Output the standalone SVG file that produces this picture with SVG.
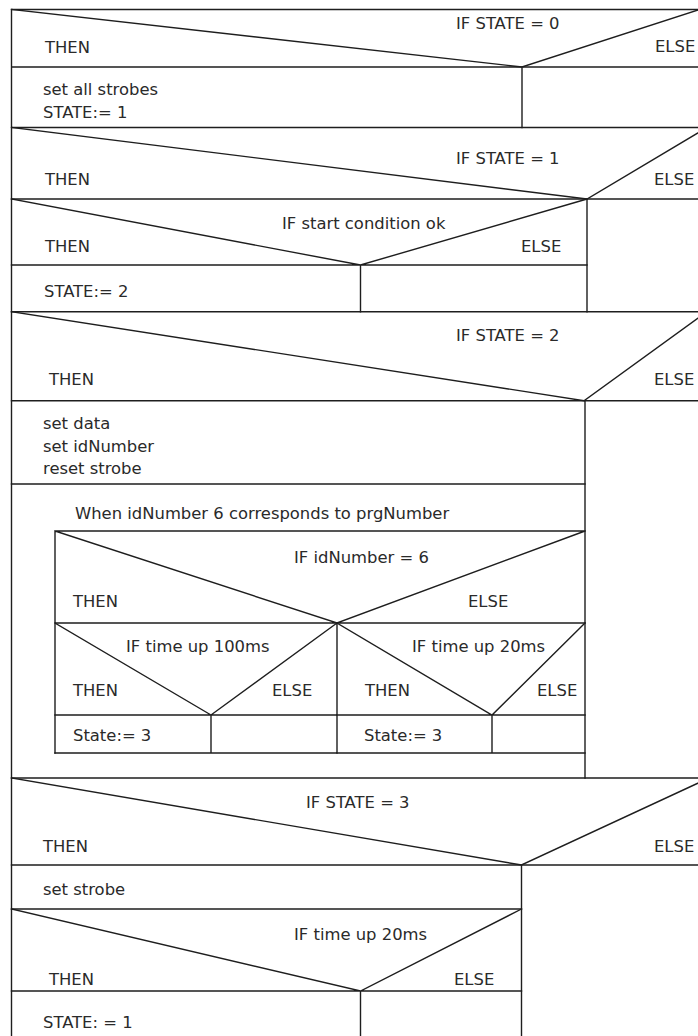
<svg xmlns="http://www.w3.org/2000/svg" width="698" height="1036" viewBox="0 0 698 1036">
<style>
.l{stroke:#1e1e1e;stroke-width:1.4;fill:none;stroke-linecap:square}
.t{font-family:"DejaVu Sans","Liberation Sans",Arial,sans-serif;font-size:16.4px;fill:#2a2a2a}
</style>
<rect x="0" y="0" width="698" height="1036" fill="#ffffff"/>
<g id="connectors"></g>
<g id="block-state0">
<path class="l" d="M11.5,9.5H698 M11.5,67H698 M11.5,127.5H698 M11.5,9.5V1036"/>
<path class="l" d="M11.5,9.5L522,67L699.5,9.5 M522,67V127.5"/>
<text class="t" x="456" y="29">IF STATE = 0</text>
<text class="t" x="45" y="53">THEN</text>
<text class="t" x="655" y="52">ELSE</text>
<text class="t" x="43" y="95">set all strobes</text>
<text class="t" x="43" y="118">STATE:= 1</text>
</g>
<g id="block-state1">
<path class="l" d="M11.5,199H698 M11.5,311.7H698"/>
<path class="l" d="M11.5,127.5L587,199L707,127.5 M587,199V311.7"/>
<text class="t" x="456" y="164">IF STATE = 1</text>
<text class="t" x="45" y="185">THEN</text>
<text class="t" x="654" y="185">ELSE</text>
</g>
<g id="block-startcond">
<path class="l" d="M11.5,265H587 M11.5,199L360.5,265L587,199 M360.5,265V311.7"/>
<text class="t" x="282" y="229">IF start condition ok</text>
<text class="t" x="45" y="252">THEN</text>
<text class="t" x="521" y="252">ELSE</text>
<text class="t" x="44" y="297">STATE:= 2</text>
</g>
<g id="block-state2">
<path class="l" d="M11.5,400.7H698 M11.5,778H698 M11.5,484H585"/>
<path class="l" d="M11.5,311.7L584,400.7L707,311.7 M585,400.7V778"/>
<text class="t" x="456" y="341">IF STATE = 2</text>
<text class="t" x="49" y="385">THEN</text>
<text class="t" x="654" y="385">ELSE</text>
<text class="t" x="43" y="429">set data</text>
<text class="t" x="43" y="452">set idNumber</text>
<text class="t" x="43" y="474">reset strobe</text>
<text class="t" x="75" y="519">When idNumber 6 corresponds to prgNumber</text>
</g>
<g id="block-idnumber">
<path class="l" d="M55,531H585 M55,531V753 M55,623H585 M55,531L337,623L585,531"/>
<text class="t" x="294" y="563">IF idNumber = 6</text>
<text class="t" x="73" y="607">THEN</text>
<text class="t" x="468" y="607">ELSE</text>
</g>
<g id="block-time100">
<path class="l" d="M55,623L211,715L337,623 M55,715H337 M55,753H337 M211,715V753 M337,623V753"/>
<text class="t" x="126" y="652">IF time up 100ms</text>
<text class="t" x="73" y="696">THEN</text>
<text class="t" x="272" y="696">ELSE</text>
<text class="t" x="73" y="741">State:= 3</text>
</g>
<g id="block-time20a">
<path class="l" d="M337,623L492,715L585,623 M337,715H585 M337,753H585 M492,715V753"/>
<text class="t" x="412" y="652">IF time up 20ms</text>
<text class="t" x="365" y="696">THEN</text>
<text class="t" x="537" y="696">ELSE</text>
<text class="t" x="364" y="741">State:= 3</text>
</g>
<g id="block-state3">
<path class="l" d="M11.5,865H698 M11.5,909H521.5"/>
<path class="l" d="M11.5,778L521.5,865L709,778 M521.5,865V1036"/>
<text class="t" x="306" y="808">IF STATE = 3</text>
<text class="t" x="43" y="852">THEN</text>
<text class="t" x="654" y="852">ELSE</text>
<text class="t" x="43" y="895">set strobe</text>
</g>
<g id="block-time20b">
<path class="l" d="M11.5,991H521.5 M11.5,909L360.5,991L521.5,909 M360.5,991V1036"/>
<text class="t" x="294" y="940">IF time up 20ms</text>
<text class="t" x="49" y="985">THEN</text>
<text class="t" x="454" y="985">ELSE</text>
<text class="t" x="43" y="1028">STATE: = 1</text>
</g>
</svg>
